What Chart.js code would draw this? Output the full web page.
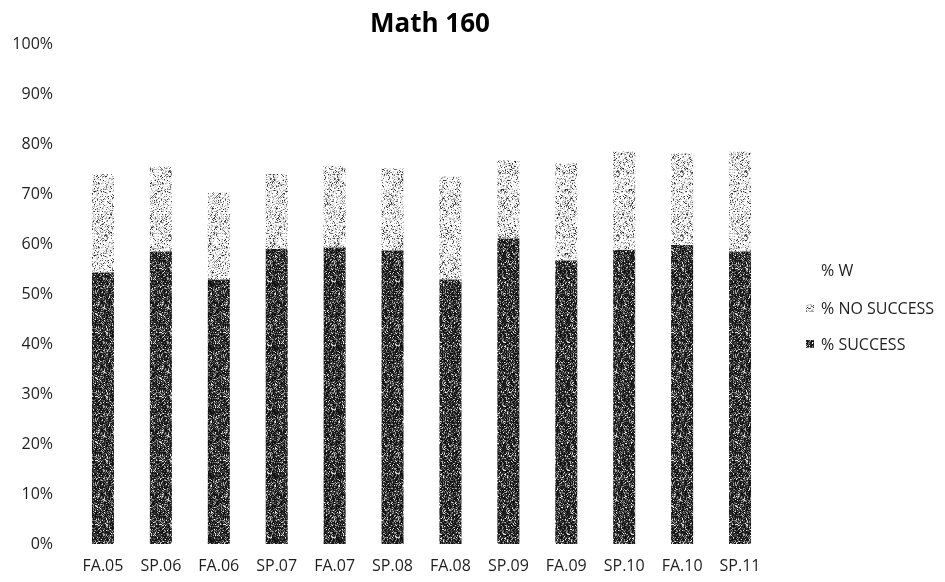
<!DOCTYPE html>
<html>
<head>
<meta charset="utf-8">
<script src="https://cdn.jsdelivr.net/npm/chart.js@4"></script>
<style>
  html, body { margin: 0; padding: 0; background: #ffffff; }
  #wrap { width: 945px; height: 582px; position: relative; }
  #title { position: absolute; left: 330px; width: 200px; top: 5px; text-align: center; font-family: 'Open Sans', sans-serif; font-weight: bold; font-size: 26px; line-height: 34px; color: #000000; }
  #legend { position: absolute; left: 805px; top: 258px; font-family: 'Open Sans', sans-serif; font-size: 16px; color: #1e1e1e; }
  .item { position: absolute; left: 0; height: 24px; line-height: 24px; white-space: nowrap; }
  .item canvas { position: absolute; left: 1px; top: 8px; width: 8px; height: 8px; }
  .item span { position: absolute; left: 16px; top: 0; }
</style>
</head>
<body>
<div id="wrap">
  <canvas id="chart" width="945" height="582"></canvas>
  <div id="title">Math 160</div>
  <div id="legend"></div>
</div>
<script>
// Terms on the x axis
const terms = ["FA.05", "SP.06", "FA.06", "SP.07", "FA.07", "SP.08", "FA.08", "SP.09", "FA.09", "SP.10", "FA.10", "SP.11"];

// Outcome shares per term (percent)
const pctSuccess   = [54.3, 58.5, 52.9, 59.0, 59.3, 58.7, 52.9, 61.1, 56.7, 58.8, 59.8, 58.5];
const pctNoSuccess = [19.7, 17.0, 17.4, 15.0, 16.3, 16.4, 20.6, 15.6, 19.4, 19.7, 18.3, 20.0];
const pctW         = [26.0, 24.5, 29.7, 26.0, 24.4, 24.9, 26.5, 23.3, 23.9, 21.5, 21.9, 21.5];

const seriesNames = ["% SUCCESS", "% NO SUCCESS", "% W"];
const yTicks = [0, 10, 20, 30, 40, 50, 60, 70, 80, 90, 100];

// Grainy print-style fill, made with a fixed-seed generator so every render is identical
function grainCanvas(seed, kind) {
  const c = document.createElement('canvas');
  c.width = 64; c.height = 64;
  const g = c.getContext('2d');
  const img = g.createImageData(64, 64);
  let s = seed >>> 0;
  const next = () => { s = (s * 1664525 + 1013904223) >>> 0; return s / 4294967296; };
  for (let i = 0; i < 64 * 64; i++) {
    const r = next();
    let v;
    if (kind === 'dark') {
      v = r < 0.48 ? 20 : r < 0.70 ? 60 : r < 0.85 ? 110 : r < 0.95 ? 170 : 235;
    } else {
      v = r < 0.55 ? 255 : r < 0.74 ? 220 : r < 0.87 ? 170 : r < 0.95 ? 110 : 50;
    }
    img.data[i * 4] = v; img.data[i * 4 + 1] = v; img.data[i * 4 + 2] = v; img.data[i * 4 + 3] = 255;
  }
  g.putImageData(img, 0, 0);
  return c;
}

const ctx = document.getElementById('chart').getContext('2d');
const darkTile = grainCanvas(12345, 'dark');
const lightTile = grainCanvas(67890, 'light');
const fills = [ctx.createPattern(darkTile, 'repeat'), ctx.createPattern(lightTile, 'repeat'), '#ffffff'];
const tiles = [darkTile, lightTile, null];

const chart = new Chart(ctx, {
  type: 'bar',
  data: {
    labels: terms,
    datasets: [
      { label: seriesNames[0], data: pctSuccess, backgroundColor: fills[0], borderWidth: 0 },
      { label: seriesNames[1], data: pctNoSuccess, backgroundColor: fills[1], borderWidth: 0 },
      { label: seriesNames[2], data: pctW, backgroundColor: fills[2], borderWidth: 0 }
    ]
  },
  options: {
    responsive: false,
    animation: false,
    layout: { padding: { left: 12, right: 176, top: 44, bottom: 0 } },
    datasets: { bar: { categoryPercentage: 0.8, barPercentage: 0.475 } },
    plugins: {
      title: { display: false },
      legend: { display: false },
      tooltip: { enabled: false }
    },
    scales: {
      x: {
        stacked: true,
        grid: { display: false, drawTicks: false },
        border: { display: false },
        afterFit: axis => { axis.height = 38; },
        ticks: { color: '#1e1e1e', padding: 13, font: { family: 'Open Sans', size: 16 }, maxRotation: 0, autoSkip: false }
      },
      y: {
        stacked: true,
        min: 0,
        max: 100,
        grid: { display: false, drawTicks: false },
        border: { display: false },
        afterBuildTicks: axis => { axis.ticks = yTicks.map(v => ({ value: v })); },
        afterFit: axis => { axis.width = 62; },
        ticks: {
          color: '#1e1e1e',
          padding: 21,
          font: { family: 'Open Sans', size: 16 },
          callback: v => v + '%'
        }
      }
    }
  }
});

// Legend, listed top to bottom in reverse stacking order
const legend = document.getElementById('legend');
const legendOrder = [2, 1, 0];
const legendTops = [0, 38, 74];
legendOrder.forEach((idx, row) => {
  const item = document.createElement('div');
  item.className = 'item';
  item.style.top = legendTops[row] + 'px';
  const sw = document.createElement('canvas');
  sw.width = 8; sw.height = 8;
  const sg = sw.getContext('2d');
  if (tiles[idx]) { sg.drawImage(tiles[idx], 0, 0); }
  else { sg.fillStyle = '#ffffff'; sg.fillRect(0, 0, 8, 8); }
  const txt = document.createElement('span');
  txt.textContent = seriesNames[idx];
  item.appendChild(sw);
  item.appendChild(txt);
  legend.appendChild(item);
});
</script>
</body>
</html>
